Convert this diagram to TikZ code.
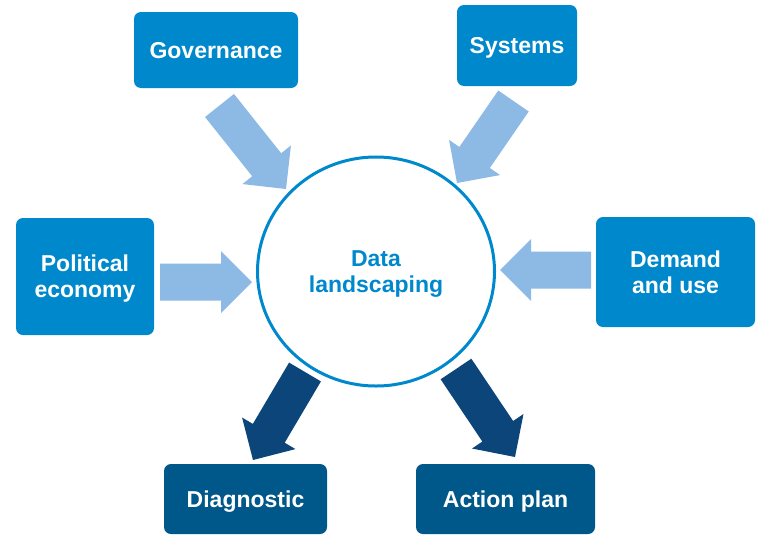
\documentclass[tikz,border=0pt]{standalone}
\usepackage{fontspec}
\setmainfont{Liberation Sans}
\usetikzlibrary{calc,shapes.geometric}
\definecolor{boxblue}{RGB}{0,136,204}
\definecolor{darkbox}{RGB}{0,87,138}
\definecolor{lightarrow}{RGB}{141,185,229}
\definecolor{darkarrow}{RGB}{11,69,121}
\begin{document}
\begin{tikzpicture}[x=1pt,y=-1pt,
  box/.style={fill=boxblue, rounded corners=7pt, text=white,
    font=\fontsize{23}{26}\selectfont\bfseries, align=center, inner sep=0pt,
    text depth=0pt},
  outbox/.style={box, fill=darkbox},
  hub/.style={ellipse, draw=boxblue, line width=3pt, inner sep=0pt, text=boxblue,
    font=\fontsize{23}{26}\selectfont\bfseries, align=center, text depth=0pt},
  blockarrow/.style={to path={
    ($(\tikztostart)!18.5pt!90:(\tikztotarget)$)
    -- ($($(\tikztotarget)!31pt!(\tikztostart)$)!18.5pt!90:(\tikztotarget)$)
    -- ($($(\tikztotarget)!31pt!(\tikztostart)$)!31pt!90:(\tikztotarget)$)
    -- (\tikztotarget)
    -- ($($(\tikztotarget)!31pt!(\tikztostart)$)!31pt!-90:(\tikztotarget)$)
    -- ($($(\tikztotarget)!31pt!(\tikztostart)$)!18.5pt!-90:(\tikztotarget)$)
    -- ($(\tikztostart)!18.5pt!-90:(\tikztotarget)$)
    -- cycle}},
  inarrow/.style={fill=lightarrow, draw=none},
  outarrow/.style={fill=darkarrow, draw=none}
]
\useasboundingbox (0,0) rectangle (760,549);

% hub
\node[hub, minimum width=237pt, minimum height=229pt] (hub) at (376,271.5) {Data\\landscaping};

% boxes
\node[box, minimum width=164pt, minimum height=76pt] (gov) at (216,50) {Governance};
\node[box, minimum width=120pt, minimum height=81pt] (sys) at (517,45.5) {Systems};
\node[box, minimum width=138pt, minimum height=117pt] (pol) at (85,276.5) {Political\\economy};
\node[box, minimum width=159pt, minimum height=110pt] (dem) at (675.5,272) {Demand\\and use};
\node[outbox, minimum width=163pt, minimum height=70pt] (dia) at (245.5,499) {Diagnostic};
\node[outbox, minimum width=179pt, minimum height=70pt] (act) at (505.5,499) {Action plan};

% arrow end points
\coordinate (govT) at (219.5,105.5); \coordinate (govH) at (286,189);
\coordinate (sysT) at (513.5,101);   \coordinate (sysH) at (457,183);
\coordinate (polT) at (160,282);     \coordinate (polH) at (252,282);
\coordinate (demT) at (591,270);     \coordinate (demH) at (500,270);
\coordinate (diaT) at (305,372);     \coordinate (diaH) at (253,460);
\coordinate (actT) at (456,369);     \coordinate (actH) at (515,457);

% arrows
\path[inarrow] (govT) to[blockarrow] (govH);
\path[inarrow] (sysT) to[blockarrow] (sysH);
\path[inarrow] (polT) to[blockarrow] (polH);
\path[inarrow] (demT) to[blockarrow] (demH);
\path[outarrow] (diaT) to[blockarrow] (diaH);
\path[outarrow] (actT) to[blockarrow] (actH);
\end{tikzpicture}
\end{document}
